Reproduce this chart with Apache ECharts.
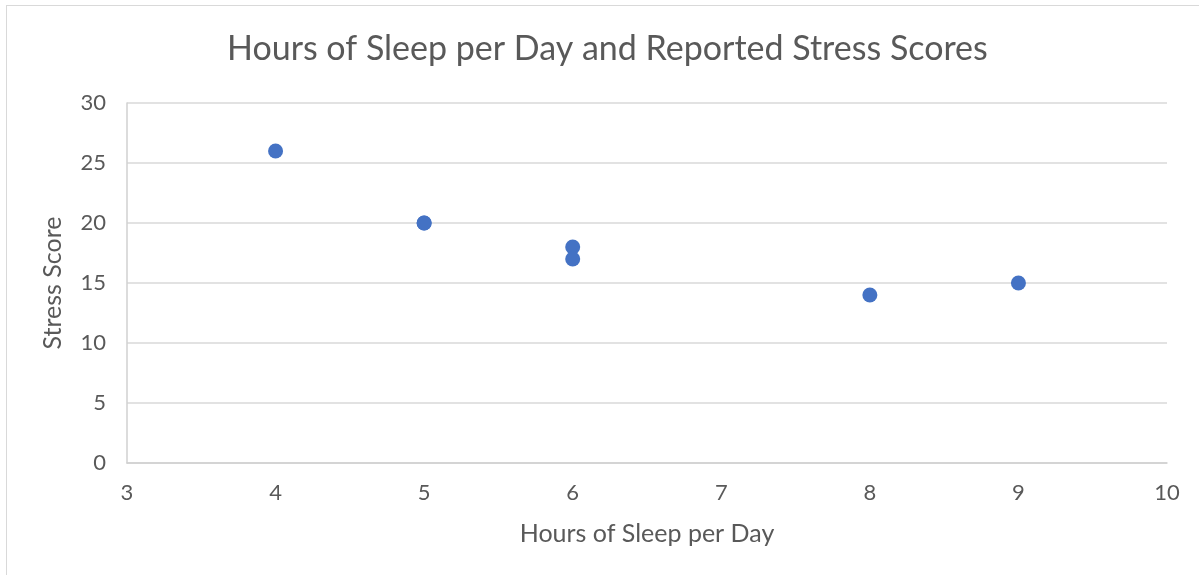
<!DOCTYPE html>
<html>
<head>
<meta charset="utf-8">
<script src="https://cdn.jsdelivr.net/npm/echarts@6/dist/echarts.min.js"></script>
<style>
  html, body { margin: 0; padding: 0; background: #fff; overflow: hidden; }
  .frame { position: absolute; left: 6px; top: 5px; width: 1300px; height: 700px; border: 1.5px solid #d9d9d9; box-sizing: border-box; }
  .chart { position: absolute; left: 0; top: 0; width: 1199px; height: 575px; }
</style>
</head>
<body>
<div class="frame"></div>
<div class="chart"></div>
<script>
// 数据
var sleepHours = [4, 5, 5, 6, 6, 8, 9];
var stressScores = [26, 20, 20, 18, 17, 14, 15];
var xTicks = [3, 4, 5, 6, 7, 8, 9, 10];
var yTicks = [0, 5, 10, 15, 20, 25, 30];

var points = sleepHours.map(function (h, i) { return [h, stressScores[i]]; });

var chart = echarts.init(document.querySelector('.chart'));
var font = 'Lato, "Open Sans", sans-serif';
var option = {
  animation: false,
  title: {
    text: 'Hours of Sleep per Day and Reported Stress Scores',
    left: 222,
    top: 27,
    textStyle: { fontFamily: font, fontSize: 34, fontWeight: 'normal', color: '#595959' }
  },
  grid: { left: 127, right: 32, top: 103, bottom: 112 },
  xAxis: {
    type: 'value',
    min: xTicks[0],
    max: xTicks[xTicks.length - 1],
    interval: 1,
    name: 'Hours of Sleep per Day',
    nameLocation: 'middle',
    nameGap: 58,
    nameTextStyle: { fontFamily: font, fontSize: 25, color: '#595959' },
    axisLine: { show: true, lineStyle: { color: '#d0d0d0', width: 1.5 } },
    axisTick: { show: false },
    splitLine: { show: false },
    axisLabel: { fontFamily: font, fontSize: 22, color: '#595959', margin: 19 }
  },
  yAxis: {
    type: 'value',
    min: yTicks[0],
    max: yTicks[yTicks.length - 1],
    interval: 5,
    name: 'Stress Score',
    nameLocation: 'middle',
    nameGap: 62,
    nameTextStyle: { fontFamily: font, fontSize: 25, color: '#595959' },
    axisLine: { show: true, lineStyle: { color: '#d0d0d0', width: 1.5 } },
    axisTick: { show: false },
    splitLine: { show: true, lineStyle: { color: '#d9d9d9', width: 1.5 } },
    axisLabel: { fontFamily: font, fontSize: 22, color: '#595959', margin: 21 }
  },
  series: [{
    type: 'scatter',
    data: points,
    symbolSize: 15,
    itemStyle: { color: '#4472C4', opacity: 1 }
  }]
};
chart.setOption(option);
</script>
</body>
</html>
